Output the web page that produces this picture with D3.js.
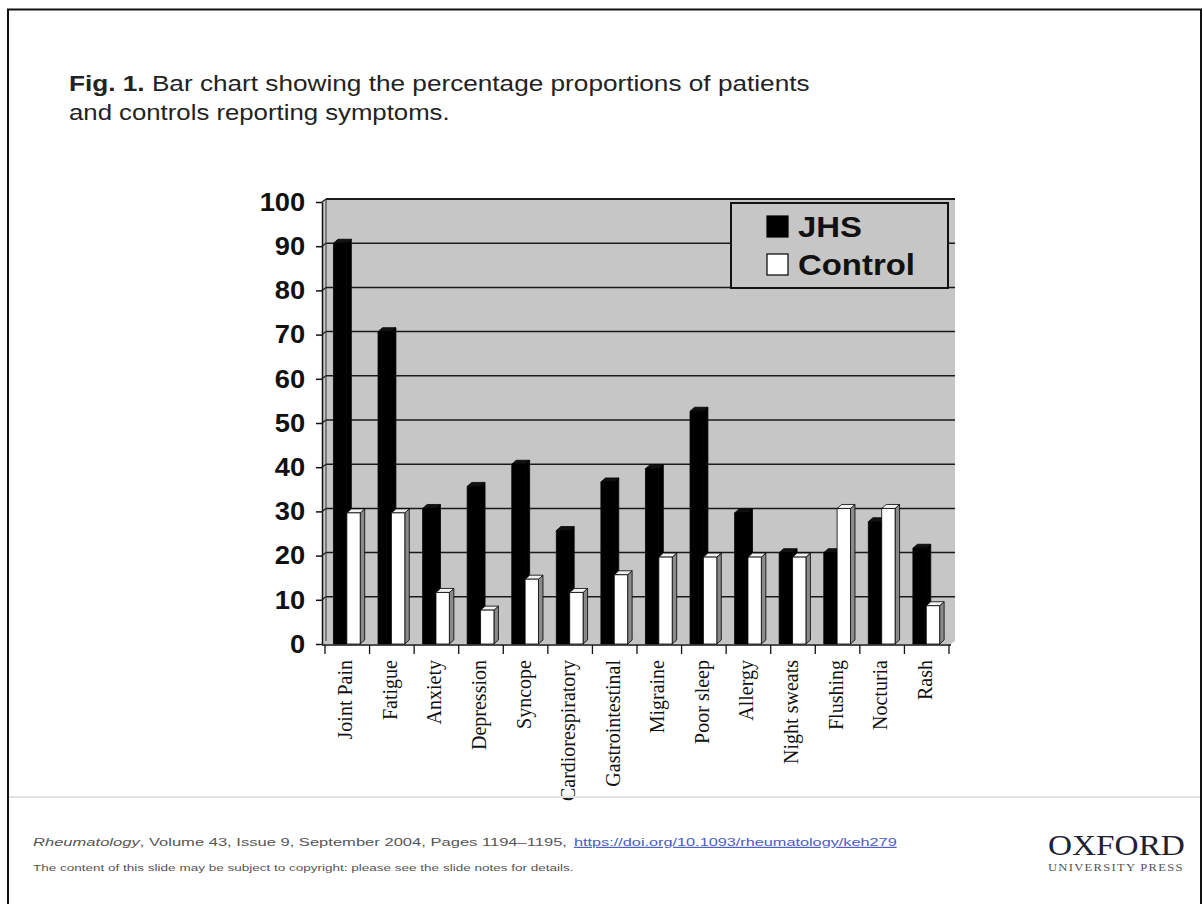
<!DOCTYPE html>
<html>
<head>
<meta charset="utf-8">
<script src="https://cdn.jsdelivr.net/npm/d3@7"></script>
<style>
  html, body { margin: 0; padding: 0; background: #fff; }
  svg { display: block; }
</style>
</head>
<body>
<svg id="chart" width="1203" height="904"></svg>
<script>
const categories = ["Joint Pain","Fatigue","Anxiety","Depression","Syncope","Cardiorespiratory","Gastrointestinal","Migraine","Poor sleep","Allergy","Night sweats","Flushing","Nocturia","Rash"];
const jhsValues = [91,71,31,36,41,26,37,40,53,30,21,21,28,22];
const controlValues = [30,30,12,8,15,12,16,20,20,20,20,31,31,9];
const yTicks = [0,10,20,30,40,50,60,70,80,90,100];
const seriesNames = ["JHS","Control"];

const svg = d3.select("#chart");
const SANS = "'Liberation Sans', Arial, sans-serif";
const SERIF = "'Liberation Serif', 'Times New Roman', serif";
const WALL = "#c6c6c6";

function fitWidth(sel, x, target) {
  const w = sel.node().getComputedTextLength();
  const k = target / w;
  sel.attr("transform", `translate(${x},0) scale(${k},1) translate(${-x},0)`);
}

// slide frame
svg.append("rect").attr("x", 8).attr("y", 9.5).attr("width", 1193).attr("height", 905)
  .attr("fill", "none").attr("stroke", "#111").attr("stroke-width", 2);

// title
const t1 = svg.append("text").attr("x", 69).attr("y", 91)
  .attr("font-family", SANS).attr("font-size", 22).attr("fill", "#222");
t1.append("tspan").attr("font-weight", "bold").text("Fig. 1.");
t1.append("tspan").text(" Bar chart showing the percentage proportions of patients");
fitWidth(t1, 69, 741);
const t2 = svg.append("text").attr("x", 69).attr("y", 120)
  .attr("font-family", SANS).attr("font-size", 22).attr("fill", "#222")
  .text("and controls reporting symptoms.");
fitWidth(t2, 69, 381);

// scales
const y = d3.scaleLinear().domain([0, 100]).range([644, 202]);
const x = d3.scaleBand().domain(categories).range([325, 949]).paddingInner(0).paddingOuter(0);
const DX = 4, DY = 3;            // wall depth offset
const step = x.step();
const barOff = step * 0.19, barW = step * 0.30, barDX = 4.5, barDY = 4;
const barShift = 1.5;            // bar front sits slightly in front of back wall

const axisX = 322;
const wallLeft = axisX + DX, wallRight = 955;

// walls
svg.append("polygon")
  .attr("points", [[axisX, y(0)], [axisX, y(100)], [wallLeft, y(100) - DY], [wallRight, y(100) - DY],
                   [wallRight, y(0) - DY], [wallRight - DX, y(0)]].map(p => p.join(",")).join(" "))
  .attr("fill", WALL);

// gridlines on back wall + side wall
const grid = svg.append("g");
yTicks.filter(v => v > 0).forEach(v => {
  grid.append("line").attr("x1", wallLeft).attr("x2", wallRight)
    .attr("y1", y(v) - DY).attr("y2", y(v) - DY)
    .attr("stroke", "#1a1a1a").attr("stroke-width", v === 100 ? 2 : 1.5);
  grid.append("line").attr("x1", axisX).attr("x2", wallLeft)
    .attr("y1", y(v)).attr("y2", y(v) - DY)
    .attr("stroke", "#1a1a1a").attr("stroke-width", 1.2);
});
grid.append("line").attr("x1", wallLeft).attr("x2", wallLeft)
  .attr("y1", y(100) - DY).attr("y2", y(0) - DY).attr("stroke", "#333").attr("stroke-width", 1);

// bars
const bars = svg.append("g");
function bar3d(x0, v, front, top, side) {
  const yt = y(v) + barShift, yb = y(0);
  const g = bars.append("g").attr("stroke", "#000").attr("stroke-width", 0.8).attr("stroke-linejoin", "round");
  g.append("polygon").attr("points", [[x0 + barW, yb], [x0 + barW, yt], [x0 + barW + barDX, yt - barDY], [x0 + barW + barDX, yb - barDY]].map(p => p.join(",")).join(" "))
    .attr("fill", side);
  g.append("polygon").attr("points", [[x0, yt], [x0 + barDX, yt - barDY], [x0 + barW + barDX, yt - barDY], [x0 + barW, yt]].map(p => p.join(",")).join(" "))
    .attr("fill", top);
  g.append("rect").attr("x", x0).attr("y", yt).attr("width", barW).attr("height", yb - yt).attr("fill", front);
}
categories.forEach((c, i) => {
  const x0 = x(c) + barOff;
  bar3d(x0, jhsValues[i], "#000", "#111", "#000");
  bar3d(x0 + barW, controlValues[i], "#fff", "#f2f2f2", "#8a8a8a");
});

// left axis
const yAxis = svg.append("g").attr("transform", `translate(${axisX},0)`)
  .call(d3.axisLeft(y).tickValues(yTicks).tickSize(6).tickSizeOuter(0).tickPadding(10));
yAxis.select(".domain").attr("stroke", "#111").attr("stroke-width", 1.5);
yAxis.selectAll(".tick line").attr("stroke", "#111").attr("stroke-width", 1.5);
yAxis.selectAll(".tick text").attr("font-family", SANS).attr("font-size", 26).attr("font-weight", "bold")
  .attr("fill", "#111").attr("transform", "scale(1.05,1)");

// bottom axis
const xAxis = svg.append("g").attr("transform", `translate(0,${y(0) + 1})`)
  .call(d3.axisBottom(x).tickSize(0).tickPadding(0));
xAxis.select(".domain").remove();
xAxis.append("line").attr("x1", axisX).attr("x2", 951).attr("y1", 0).attr("y2", 0)
  .attr("stroke", "#111").attr("stroke-width", 1.5);
categories.concat([null]).forEach((c, i) => {
  const xx = c === null ? x.range()[1] : x(c);
  xAxis.append("line").attr("x1", xx).attr("x2", xx).attr("y1", 0).attr("y2", 9)
    .attr("stroke", "#111").attr("stroke-width", 1.3);
});
xAxis.selectAll(".tick text")
  .attr("font-family", SERIF).attr("font-size", 20).attr("fill", "#111")
  .attr("text-anchor", "end")
  .attr("transform", "translate(-2,15) rotate(-90)")
  .attr("x", 0).attr("y", 0).attr("dy", "0.35em");

// legend
const lg = svg.append("g");
lg.append("rect").attr("x", 731).attr("y", 203).attr("width", 217).attr("height", 85)
  .attr("fill", WALL).attr("stroke", "#111").attr("stroke-width", 2);
const lgItems = [{name: seriesNames[0], fill: "#000", y: 216}, {name: seriesNames[1], fill: "#fff", y: 254}];
lgItems.forEach((d, i) => {
  lg.append("rect").attr("x", 767).attr("y", d.y).attr("width", 21).attr("height", 21)
    .attr("fill", d.fill).attr("stroke", "#000").attr("stroke-width", 1.2);
  const tx = lg.append("text").attr("x", 798).attr("y", d.y + 21)
    .attr("font-family", SANS).attr("font-size", 30).attr("font-weight", "bold").attr("fill", "#111")
    .text(d.name);
  fitWidth(tx, 798, i === 0 ? 64 : 117);
});

// footer separator
svg.append("line").attr("x1", 9).attr("x2", 1200).attr("y1", 797).attr("y2", 797)
  .attr("stroke", "#e2e2e2").attr("stroke-width", 2);

// footer text
const f1 = svg.append("text").attr("x", 33).attr("y", 846)
  .attr("font-family", SANS).attr("font-size", 11.5).attr("fill", "#555");
f1.append("tspan").attr("font-style", "italic").text("Rheumatology");
f1.append("tspan").text(", Volume 43, Issue 9, September 2004, Pages 1194–1195, ");
fitWidth(f1, 33, 534);
const f2 = svg.append("text").attr("x", 574).attr("y", 846)
  .attr("font-family", SANS).attr("font-size", 11.5).attr("fill", "#4a5cc4")
  .attr("text-decoration", "underline")
  .text("https://doi.org/10.1093/rheumatology/keh279");
fitWidth(f2, 574, 323);
const f3 = svg.append("text").attr("x", 33).attr("y", 871)
  .attr("font-family", SANS).attr("font-size", 9.5).attr("fill", "#555")
  .text("The content of this slide may be subject to copyright: please see the slide notes for details.");
fitWidth(f3, 33, 541);

// logo
const o1 = svg.append("text").attr("x", 1048).attr("y", 855)
  .attr("font-family", SERIF).attr("font-size", 29).attr("fill", "#1c2233").text("OXFORD");
fitWidth(o1, 1048, 137);
const o2 = svg.append("text").attr("x", 1048).attr("y", 871)
  .attr("font-family", SERIF).attr("font-size", 10).attr("fill", "#555").attr("letter-spacing", 1)
  .text("UNIVERSITY PRESS");
fitWidth(o2, 1048, 136);
</script>
</body>
</html>
